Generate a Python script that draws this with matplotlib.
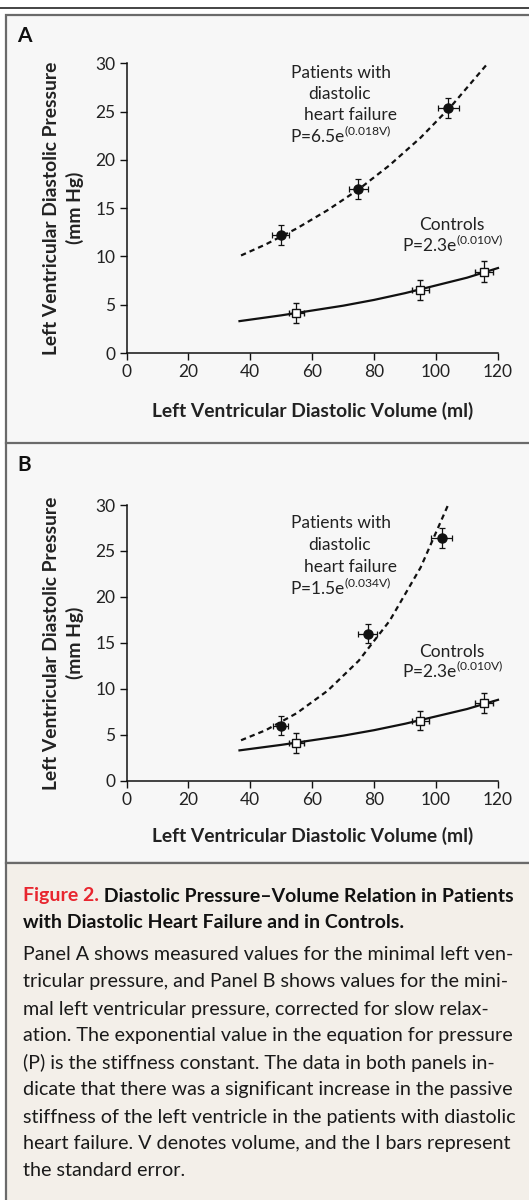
import numpy as np
import matplotlib
matplotlib.use("Agg")
import matplotlib.pyplot as plt
from matplotlib.patches import Rectangle
from matplotlib.lines import Line2D

plt.rcParams['font.family'] = ['Lato', 'DejaVu Sans']
plt.rcParams['mathtext.fontset'] = 'custom'
plt.rcParams['mathtext.rm'] = 'Lato'
plt.rcParams['mathtext.it'] = 'Lato:italic'
plt.rcParams['mathtext.bf'] = 'Lato:bold'

TXT = '#222222'

# ---- data ----
# Panel A (measured minimal LV pressure)
a_pat_v = [49.8, 74.9, 103.9]
a_pat_p = [12.2, 17.0, 25.35]
a_pat_verr = [2.7, 3.0, 3.4]
a_pat_perr = [1.05, 1.05, 1.05]
a_pat_fit_v = [37, 45, 55, 65, 75, 85, 95, 105, 116.3]
a_pat_fit_p = [10.1, 11.25, 12.9, 14.8, 16.95, 19.45, 22.3, 25.6, 29.85]

# Panel B (corrected for slow relaxation)
b_pat_v = [49.8, 77.9, 101.8]
b_pat_p = [6.0, 16.0, 26.4]
b_pat_verr = [2.5, 3.0, 3.4]
b_pat_perr = [1.05, 1.05, 1.05]
b_pat_fit_v = [37, 45, 55, 65, 75, 85, 95, 104]
b_pat_fit_p = [4.4, 5.5, 7.35, 9.8, 13.05, 17.4, 23.2, 30.1]

# Controls (same in both panels)
ctl_v = [54.8, 94.9, 115.5]
ctl_p = [4.13, 6.54, 8.43]
ctl_verr = [2.4, 2.7, 2.8]
ctl_perr = [1.07, 1.07, 1.07]
ctl_fit_v = [36.5, 50, 60, 70, 80, 90, 100, 110, 120]
ctl_fit_p = [3.3, 3.9, 4.4, 4.9, 5.5, 6.2, 7.0, 7.8, 8.8]

x_ticks = [0, 20, 40, 60, 80, 100, 120]
y_ticks = [0, 5, 10, 15, 20, 25, 30]

W, H = 529, 1200
fig = plt.figure(figsize=(W / 100, H / 100), dpi=100)


def fy(px):
    return 1 - px / H


def fx(px):
    return px / W


# background frames
fig.add_artist(Line2D([0, 1], [fy(7.5), fy(7.5)], color='#111111', lw=1.1,
                      zorder=-10))
fig.add_artist(Rectangle((fx(6), fy(863)), 1.2, fy(15) - fy(863),
                         facecolor='#f7f7f7', edgecolor='#6a6a6a', lw=1.6,
                         zorder=-10))
fig.add_artist(Rectangle((fx(6), fy(1260)), 1.2, fy(863) - fy(1260),
                         facecolor='#f3efe9', edgecolor='#6a6a6a', lw=1.6,
                         zorder=-10))
fig.add_artist(Line2D([fx(6), 1], [fy(443), fy(443)], color='#6a6a6a',
                      lw=1.6, zorder=-9))

FS = 12.5    # annotations / ticks
LFS = 13.9   # axis labels


def panel(rect, letter, letter_y, pat_v, pat_p, pat_verr, pat_perr,
          fit_v, fit_p, eq_pat, text_p, label_y):
    ax = fig.add_axes(rect)
    ax.patch.set_alpha(0)
    ax.set_xlim(0, 120)
    ax.set_ylim(0, 30)
    for s in ['top', 'right']:
        ax.spines[s].set_visible(False)
    for s in ['left', 'bottom']:
        ax.spines[s].set_linewidth(1.1)
        ax.spines[s].set_color('#111111')
    ax.set_xticks(x_ticks)
    ax.set_yticks(y_ticks)
    ax.tick_params(direction='out', length=5, width=1.0, color='#111111',
                   labelsize=FS, labelcolor=TXT, pad=3)

    ax.plot(fit_v, fit_p, color='#111111', lw=1.6,
            linestyle=(0, (2.4, 1.8)), clip_on=False)
    ax.plot(ctl_fit_v, ctl_fit_p, color='#111111', lw=1.6, clip_on=False)

    ax.errorbar(pat_v, pat_p, xerr=pat_verr, yerr=pat_perr, fmt='o',
                color='#111111', ms=6.5, elinewidth=0.9, capsize=2.2,
                capthick=0.9, clip_on=False, zorder=4)
    ax.errorbar(ctl_v, ctl_p, xerr=ctl_verr, yerr=ctl_perr, fmt='s',
                color='#111111', mfc='white', mec='#111111', mew=1.0,
                ms=6, elinewidth=0.9, capsize=2.2, capthick=0.9,
                clip_on=False, zorder=4)

    # annotations
    tp = text_p
    ax.text(53.0, tp[0], 'Patients with', fontsize=FS, color=TXT, va='center')
    ax.text(58.8, tp[1], 'diastolic', fontsize=FS, color=TXT, va='center')
    ax.text(57.2, tp[2], 'heart failure', fontsize=FS, color=TXT, va='center')
    ax.text(52.8, tp[3], eq_pat, fontsize=FS, color=TXT, va='center')
    ax.text(105.1, tp[4], 'Controls', fontsize=FS, color=TXT, va='center',
            ha='center')
    ax.text(89.0, tp[5], r'P=2.3e$^{\mathrm{(0.010V)}}$', fontsize=FS,
            color=TXT, va='center')

    ax.set_ylabel('Left Ventricular Diastolic Pressure\n(mm Hg)',
                  fontsize=LFS, fontweight='bold', color=TXT, linespacing=1.4)
    ax.yaxis.set_label_coords((84 - rect[0] * W) / (rect[2] * W), 0.5)
    ax.set_xlabel('Left Ventricular Diastolic Volume (ml)', fontsize=LFS,
                  fontweight='bold', color=TXT)
    ax.xaxis.set_label_coords(0.5, (fy(label_y) - rect[1]) / rect[3])
    ax.xaxis.label.set_va('center')

    fig.text(fx(17), fy(letter_y), letter, fontsize=15, fontweight='bold',
             color='#111111', va='center')
    return ax


panel([fx(126.5), fy(353), fx(498) - fx(126.5), fy(63.3) - fy(353)],
      'A', 36, a_pat_v, a_pat_p, a_pat_verr, a_pat_perr,
      a_pat_fit_v, a_pat_fit_p, r'P=6.5e$^{\mathrm{(0.018V)}}$',
      [28.95, 26.8, 24.6, 22.5, 13.3, 11.2], 411)
panel([fx(126.5), fy(780.7), fx(498) - fx(126.5), fy(505) - fy(780.7)],
      'B', 465, b_pat_v, b_pat_p, b_pat_verr, b_pat_perr,
      b_pat_fit_v, b_pat_fit_p, r'P=1.5e$^{\mathrm{(0.034V)}}$',
      [28.0, 25.6, 23.3, 21.0, 14.0, 11.9], 836)

# caption
CFS = 14
t1 = fig.text(fx(23), fy(896), 'Figure 2.', fontsize=CFS, fontweight='bold',
              color='#e8262f', va='center')
fig.canvas.draw()
bb = t1.get_window_extent()
fig.text(bb.x1 / W, fy(896), ' Diastolic Pressure\u2013Volume Relation in Patients',
         fontsize=CFS, fontweight='bold', color='#111111', va='center')
fig.text(fx(23), fy(922), 'with Diastolic Heart Failure and in Controls.',
         fontsize=CFS, fontweight='bold', color='#111111', va='center')

body = [
    "Panel A shows measured values for the minimal left ven-",
    "tricular pressure, and Panel B shows values for the mini-",
    "mal left ventricular pressure, corrected for slow relax-",
    "ation. The exponential value in the equation for pressure",
    "(P) is the stiffness constant. The data in both panels in-",
    "dicate that there was a significant increase in the passive",
    "stiffness of the left ventricle in the patients with diastolic",
    "heart failure. V denotes volume, and the I bars represent",
    "the standard error.",
]
for i, line in enumerate(body):
    fig.text(fx(23), fy(955 + 27 * i), line, fontsize=14.2, color='#1a1a1a',
             va='center')

fig.savefig('out.png', dpi=100)
